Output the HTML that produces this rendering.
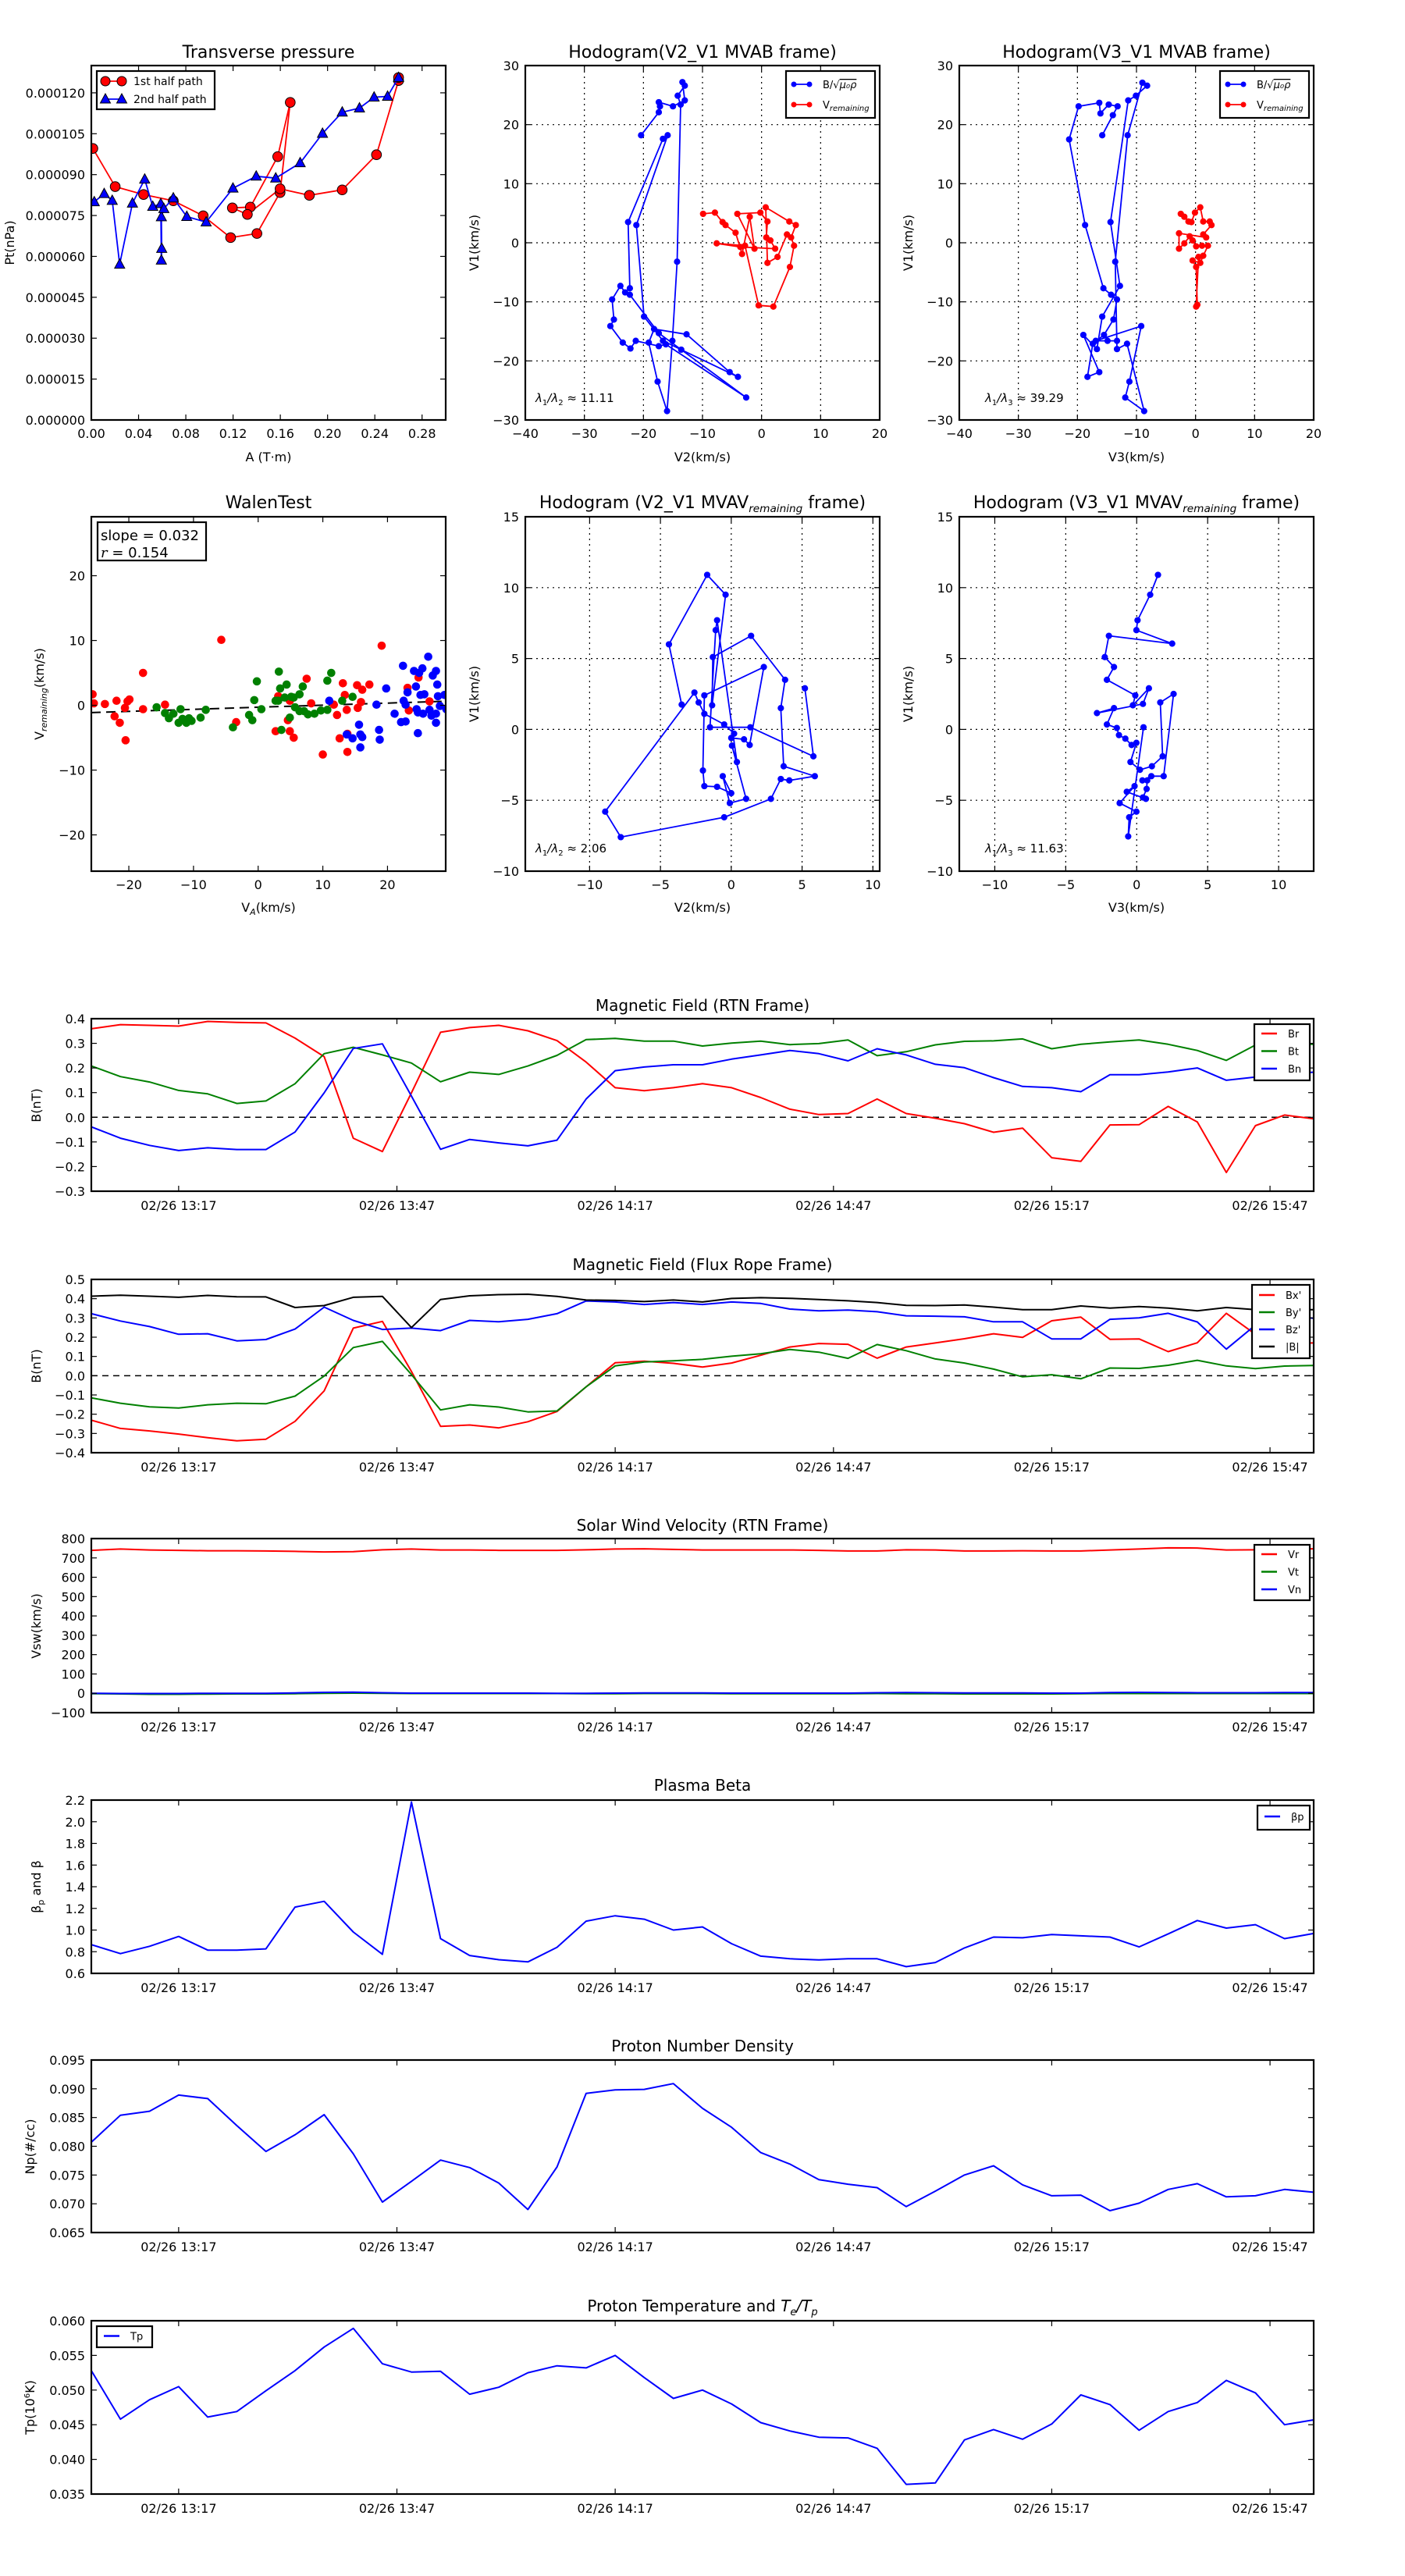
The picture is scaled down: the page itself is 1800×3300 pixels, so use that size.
<!DOCTYPE html>
<html><head><meta charset="utf-8"><title>Flux rope analysis</title>
<style>
html,body{margin:0;padding:0;background:#fff;}
svg{display:block;font-family:"DejaVu Sans","Liberation Sans",sans-serif;}
</style></head>
<body>
<svg id="fig" xmlns="http://www.w3.org/2000/svg" width="1800" height="3300" viewBox="0 0 1800 3300">
<rect x="0" y="0" width="1800" height="3300" fill="#fff"/>
</svg>
<script>
// ---------------- DATA ----------------
// Transverse pressure (A in T·m, Pt in 1e-6 nPa)
const ptRedA = [0.0013,0.0202,0.0442,0.0694,0.0947,0.1179,0.1402,0.1598,0.1684,0.1578,0.1346,0.1194,0.1321,0.1598,0.1846,0.2124,0.2414,0.2601,0.2601];
const ptRedP = [99.6,85.6,82.7,80.4,74.9,66.9,68.4,83.4,116.5,96.6,78.1,77.8,75.4,84.8,82.4,84.4,97.3,124.5,125.6];
const ptBlueA = [0.0025,0.0109,0.0177,0.0240,0.0348,0.0452,0.0520,0.0588,0.0593,0.0596,0.0593,0.0614,0.0694,0.0808,0.0972,0.1199,0.1396,0.1561,0.1768,0.1957,0.2124,0.2270,0.2394,0.2508,0.2601];
const ptBlueP = [80.0,83.0,80.5,57.1,79.5,88.3,78.3,79.3,58.6,62.9,74.5,77.5,81.4,74.6,72.6,85.0,89.4,88.7,94.3,105.1,112.9,114.4,118.4,118.7,125.6];
const ptXTicks = [0,0.04,0.08,0.12,0.16,0.20,0.24,0.28];
const ptYTicks = [0,15,30,45,60,75,90,105,120];

// Hodogram MVAB V2-V1
const h1BlueV2 = [-20.4,-17.4,-17.2,-17.4,-15.0,-13.0,-13.4,-13.0,-14.2,-13.7,-14.3,-15.1,-16.0,-17.6,-19.1,-18.2,-12.7,-5.4,-4.0,-13.6,-16.7,-19.9,-21.2,-15.9,-16.7,-22.6,-22.3,-23.1,-23.9,-25.3,-25.0,-25.6,-23.5,-22.2,-21.3,-17.4,-16.2,-2.6,-17.4,-22.3];
const h1BlueV1 = [18.2,22.1,23.1,23.8,23.1,24.1,27.2,26.6,24.9,23.4,-3.2,-16.6,-28.5,-23.5,-16.9,-14.6,-15.5,-21.9,-22.7,-18.1,-16.6,-12.5,3.0,18.2,17.6,3.5,-7.7,-8.4,-7.3,-9.6,-13.0,-14.1,-16.9,-17.9,-16.6,-17.5,-17.2,-26.2,-15.3,-8.8];
const h1RedV2 = [-9.9,-7.9,-6.6,-6.1,-4.4,-3.3,-2.0,-1.2,-4.1,-0.2,1.0,0.8,1.5,2.3,-3.6,-7.6,-2.8,-0.5,2.0,4.8,5.5,5.0,5.8,4.7,0.7,1.0,2.7,4.3];
const h1RedV1 = [4.9,5.1,3.5,3.0,1.7,-1.9,4.4,-1.0,4.9,5.1,3.6,0.9,0.4,-1.0,-0.7,-0.1,-0.5,-10.6,-10.8,-4.1,-0.5,0.9,3.0,3.6,6.0,-3.4,-2.4,1.4];
// Hodogram MVAB V3-V1
const h2BlueV3 = [-15.8,-14.0,-13.2,-14.7,-16.1,-16.3,-19.8,-21.4,-18.7,-15.6,-14.3,-13.3,-13.9,-15.5,-17.4,-18.3,-16.3,-19.0,-16.7,-15.8,-12.8,-14.4,-11.4,-10.1,-8.2,-9.0,-11.5,-13.6,-13.3,-11.6,-8.7,-11.9,-11.2,-9.2,-16.9,-14.9,-13.3];
const h2BlueV1 = [18.2,21.6,23.1,23.4,21.9,23.7,23.1,17.5,3.0,-7.7,-8.8,-9.6,-13.0,-15.6,-17.1,-22.7,-21.9,-15.6,-18.0,-12.5,-7.3,3.5,24.1,24.9,26.6,27.1,18.2,-3.2,-18.0,-17.1,-28.5,-26.2,-23.5,-14.1,-16.6,-16.6,-16.6];
const h2RedV3 = [-2.5,-1.9,-1.2,-0.7,-0.1,0.8,1.3,2.4,2.7,1.3,1.8,-2.8,-2.8,-1.9,-1.0,-0.5,0.1,1.1,2.1,1.3,0.8,-0.5,0.1,0.3,0.1,0.5];
const h2RedV1 = [4.9,4.4,3.6,3.5,5.1,6.0,3.6,3.6,3.0,1.4,0.9,1.6,-1.0,-0.1,1.1,0.4,-0.6,-0.5,-0.5,-2.2,-3.4,-3.0,-4.1,-10.5,-10.8,-2.4];
const hodoTicks1X = [-40,-30,-20,-10,0,10,20];
const hodoTicks1Y = [-30,-20,-10,0,10,20,30];

// Walen test
const walRedVA = [-25.6,-25.4,-23.7,-22.2,-21.9,-21.4,-20.6,-20.5,-20.2,-19.9,-17.8,-17.8,-14.4,-5.7,-3.4,2.7,3.1,4.6,4.9,4.9,5.5,7.5,8.2,10.0,11.7,12.2,12.6,13.1,13.4,13.7,13.8,13.8,15.3,15.4,15.9,16.1,17.2,19.1,23.1,23.3,24.8,26.5];
const walRedV = [1.7,0.3,0.2,-1.7,0.7,-2.7,-0.4,-5.4,0.6,0.9,5.0,-0.6,0.1,10.1,-2.6,-4.0,1.4,-2.3,0.7,-4.0,-5.0,4.1,0.3,-7.6,0.1,-1.5,-5.1,3.4,1.6,-0.7,-4.4,-7.2,3.1,-0.4,0.5,2.4,3.2,9.2,2.7,-0.8,4.3,0.6];
const walGreenVA = [-15.7,-14.4,-13.8,-13.1,-12.3,-12.0,-11.7,-11.1,-10.7,-10.3,-8.9,-8.1,-3.9,-1.4,-0.9,-0.6,-0.2,0.5,2.7,3.1,3.2,3.4,3.6,4.1,4.4,4.9,5.1,5.5,5.7,6.4,6.4,6.9,7.1,7.7,8.7,9.7,10.7,10.7,11.3,13.0,14.6];
const walGreenV = [-0.3,-1.2,-2.0,-1.3,-2.7,-0.6,-2.1,-2.7,-2.0,-2.4,-1.9,-0.7,-3.4,-1.5,-2.3,0.8,3.7,-0.6,0.7,0.7,5.2,2.6,-3.8,1.2,3.2,-1.9,1.3,1.2,-0.3,1.7,-0.9,2.9,-0.9,-1.4,-1.3,-0.8,-0.7,3.8,5.0,0.7,1.3];
const walBlueVA = [11.0,13.7,14.6,15.6,15.8,15.8,16.1,18.3,18.7,18.8,19.8,21.1,22.1,22.4,22.5,22.8,22.8,23.1,24.1,24.4,24.5,24.7,24.7,24.9,25.1,25.4,25.5,25.7,26.3,26.5,26.8,27.0,27.5,27.7,27.5,27.5,27.8,28.1,28.8,29.1];
const walBlueV = [0.7,-4.5,-5.1,-3.0,-4.5,-6.5,-4.9,0.1,-3.8,-5.3,2.6,-1.3,-2.6,6.1,0.7,0.1,-2.5,2.0,5.3,2.9,-0.6,-1.1,-4.3,5.0,1.6,5.7,-1.3,1.7,7.5,-0.7,-1.6,4.6,5.3,3.2,-1.3,-2.7,1.4,-0.1,1.6,-0.6];
const walSlope = 0.032;
const walIntercept = -0.3;
const walTicks = [-20,-10,0,10,20];

// Hodogram MVAV remaining
const h3V2 = [-3.5,-4.4,-1.7,-0.4,-1.35,-1.3,1.4,3.8,3.5,3.7,5.9,4.1,3.5,2.8,-0.5,-7.8,-8.9,-2.6,-2.3,-1.9,-0.5,0.2,0.0,0.9,1.3,2.3,-1.9,-2.0,-1.9,-1.0,0.0,-0.6,-0.1,1.05,0.05,0.4,-1.0,-1.1,-1.5,1.35,5.8,5.2];
const h3V1 = [1.75,6.0,10.9,9.5,1.7,5.1,6.6,3.5,1.5,-2.6,-3.3,-3.6,-3.5,-4.9,-6.2,-7.6,-5.8,2.6,1.9,1.1,0.35,-0.3,-0.6,-0.7,-1.1,4.4,2.4,-2.9,-4.0,-4.05,-4.5,-3.3,-5.2,-4.9,-1.15,-2.3,7.7,7.0,0.15,0.15,-1.9,2.9];
const h4V3 = [1.5,0.95,0.06,-0.02,2.5,-1.96,-2.25,-1.6,-2.1,-0.1,-0.27,0.86,0.44,-2.8,-1.6,-2.1,-1.4,-1.25,-0.8,-0.36,-0.02,-0.44,0.23,1.07,1.83,1.66,2.6,1.9,1.03,0.4,0.74,0.7,0.44,0.65,-0.7,-0.15,-1.2,-0.02,-0.53,-0.6,0.48];
const h4V1 = [10.9,9.5,7.7,7.0,6.05,6.6,5.1,4.4,3.5,2.4,1.7,2.9,1.8,1.15,1.5,0.35,0.1,-0.4,-0.65,-1.1,-0.95,-2.3,-2.85,-2.6,-1.9,1.9,2.5,-3.3,-3.3,-3.6,-3.6,-4.2,-4.8,-4.9,-4.4,-4.0,-5.2,-5.8,-6.2,-7.55,0.15];
const hodoTicks2X = [-10,-5,0,5,10];
const hodoTicks2Y = [-10,-5,0,5,10,15];

// Time series (43 samples every 4 minutes from 02/26 13:05)
const tsMinutes = Array.from({length:43},(_,i)=>i*4);
const timeTickMin = [12,42,72,102,132,162];
const timeTickLabels = ["02/26 13:17","02/26 13:47","02/26 14:17","02/26 14:47","02/26 15:17","02/26 15:47"];
const Br = [0.359,0.376,0.373,0.370,0.389,0.385,0.383,0.321,0.246,-0.085,-0.139,0.099,0.345,0.364,0.373,0.351,0.311,0.224,0.120,0.108,0.120,0.136,0.120,0.080,0.033,0.011,0.015,0.074,0.015,-0.004,-0.026,-0.061,-0.044,-0.164,-0.179,-0.031,-0.030,0.044,-0.019,-0.224,-0.034,0.009,-0.006];
const Bt = [0.208,0.165,0.143,0.109,0.095,0.056,0.066,0.136,0.258,0.284,0.253,0.220,0.144,0.183,0.174,0.208,0.251,0.315,0.320,0.309,0.309,0.289,0.301,0.309,0.295,0.299,0.314,0.250,0.266,0.294,0.308,0.310,0.318,0.278,0.296,0.306,0.314,0.296,0.271,0.231,0.293,0.299,0.296];
const Bn = [-0.039,-0.085,-0.114,-0.135,-0.124,-0.131,-0.131,-0.060,0.099,0.279,0.298,0.086,-0.130,-0.090,-0.104,-0.116,-0.093,0.074,0.189,0.204,0.213,0.213,0.236,0.253,0.271,0.258,0.229,0.278,0.253,0.215,0.201,0.161,0.125,0.120,0.104,0.173,0.173,0.184,0.200,0.150,0.163,0.174,0.183];
const Bxp = [-0.231,-0.274,-0.287,-0.303,-0.322,-0.338,-0.330,-0.237,-0.079,0.247,0.282,0.022,-0.263,-0.256,-0.271,-0.239,-0.186,-0.058,0.067,0.075,0.064,0.045,0.066,0.106,0.149,0.167,0.163,0.091,0.149,0.170,0.192,0.218,0.199,0.285,0.304,0.189,0.191,0.125,0.171,0.324,0.215,0.167,0.170];
const Byp = [-0.115,-0.143,-0.162,-0.168,-0.151,-0.143,-0.146,-0.106,-0.002,0.146,0.178,0.006,-0.178,-0.151,-0.163,-0.188,-0.183,-0.058,0.051,0.071,0.077,0.085,0.101,0.114,0.136,0.122,0.090,0.162,0.130,0.087,0.066,0.034,-0.006,0.005,-0.016,0.040,0.038,0.054,0.080,0.051,0.037,0.050,0.053];
const Bzp = [0.322,0.284,0.255,0.215,0.218,0.181,0.188,0.242,0.356,0.287,0.240,0.247,0.234,0.287,0.280,0.293,0.322,0.388,0.383,0.370,0.380,0.370,0.383,0.375,0.346,0.337,0.341,0.332,0.311,0.309,0.306,0.280,0.280,0.191,0.191,0.293,0.300,0.324,0.279,0.138,0.263,0.311,0.298];
const Bmag = [0.413,0.418,0.413,0.407,0.417,0.410,0.409,0.354,0.364,0.407,0.412,0.250,0.396,0.415,0.421,0.423,0.412,0.393,0.391,0.385,0.393,0.383,0.401,0.405,0.402,0.396,0.389,0.380,0.365,0.364,0.367,0.356,0.343,0.343,0.362,0.351,0.359,0.351,0.337,0.354,0.343,0.343,0.343];
const Vr = [739,746,741,739,737,737,736,734,731,732,742,746,741,741,739,739,739,742,746,747,744,741,741,741,741,739,736,736,742,741,736,736,737,736,736,741,746,752,751,741,742,746,747];
const Vt = [-2,-3,-5,-5,-4,-3,-3,-2,0,1,0,-1,-1,-1,-1,-1,-1,-2,-2,-1,-1,-1,-2,-2,-2,-2,-2,-1,-2,-2,-3,-3,-3,-3,-2,-1,-1,-1,-1,-1,-1,-1,-1];
const Vn = [0,-1,-1,-1,0,0,0,2,5,6,3,1,1,1,1,1,0,0,1,2,2,2,1,1,1,1,1,3,4,3,2,2,2,1,1,4,5,4,3,3,3,4,4];
const betaP = [0.865,0.782,0.850,0.941,0.815,0.815,0.826,1.212,1.265,0.982,0.776,2.182,0.921,0.765,0.726,0.706,0.841,1.082,1.132,1.100,1.000,1.029,0.874,0.759,0.735,0.724,0.735,0.735,0.662,0.700,0.835,0.935,0.929,0.959,0.947,0.935,0.844,0.965,1.088,1.018,1.050,0.921,0.968];
const Np = [0.0807,0.0854,0.0861,0.0889,0.0883,0.0836,0.0791,0.0820,0.0855,0.0787,0.0703,0.0739,0.0776,0.0763,0.0736,0.0690,0.0764,0.0892,0.0898,0.0899,0.0909,0.0866,0.0833,0.0789,0.0769,0.0742,0.0734,0.0728,0.0695,0.0722,0.0750,0.0766,0.0733,0.0714,0.0715,0.0688,0.0701,0.0725,0.0735,0.0712,0.0714,0.0725,0.0720];
const Tp = [0.0528,0.0458,0.0486,0.0505,0.0461,0.0469,0.0499,0.0528,0.0562,0.0589,0.0538,0.0526,0.0527,0.0494,0.0504,0.0525,0.0535,0.0532,0.0550,0.0518,0.0488,0.0500,0.0480,0.0453,0.0441,0.0432,0.0431,0.0416,0.0364,0.0366,0.0428,0.0443,0.0429,0.0451,0.0493,0.0479,0.0442,0.0469,0.0482,0.0514,0.0496,0.0450,0.0457];
const rtnTicks = [-0.3,-0.2,-0.1,0.0,0.1,0.2,0.3,0.4];
const fluxTicks = [-0.4,-0.3,-0.2,-0.1,0.0,0.1,0.2,0.3,0.4,0.5];
const velTicks = [-100,0,100,200,300,400,500,600,700,800];
const betaTicks = [0.6,0.8,1.0,1.2,1.4,1.6,1.8,2.0,2.2];
const npTicks = [0.065,0.070,0.075,0.080,0.085,0.090,0.095];
const tpTicks = [0.035,0.040,0.045,0.050,0.055,0.060];

// ---------------- DRAWING ----------------
const NS = "http://www.w3.org/2000/svg";
const fig = document.getElementById('fig');
const RED = "#ff0000", GREEN = "#008000", BLUE = "#0000ff";
function mk(tag, parent, attrs){
  const e = document.createElementNS(NS, tag);
  for (const k in attrs) e.setAttribute(k, attrs[k]);
  parent.appendChild(e);
  return e;
}
function txt(parent, x, y, s, size, anchor, name, rot){
  const t = mk('text', parent, {x:x, y:y, 'font-size':size, 'text-anchor':anchor||'start', fill:'#000'});
  if (rot) t.setAttribute('transform', 'rotate(' + rot + ' ' + x + ' ' + y + ')');
  t.textContent = s;
  
  
  return t;
}
function fmtMinus(s){ return String(s).replace('-', '\u2212'); }

function makeAxes(name, px0, px1, py0, py1, xr, yr){
  const g = mk('g', fig, {});
  
  
  const cid = 'clip-' + name;
  const cp = mk('clipPath', g, {id: cid});
  mk('rect', cp, {x:px0, y:py0, width:px1-px0, height:py1-py0});
  const plot = mk('g', g, {'clip-path':'url(#' + cid + ')'});
  
  
  return {g, plot, px0, px1, py0, py1,
    sx: v => px0 + (v - xr[0]) / (xr[1] - xr[0]) * (px1 - px0),
    sy: v => py1 - (v - yr[0]) / (yr[1] - yr[0]) * (py1 - py0)};
}
function frame(ax, xticks, xlabels, yticks, ylabels, opt){
  const fs = opt.fs || 16, tl = 7;
  if (opt.grid){
    xticks.forEach(v => { const x = ax.sx(v);
      const l = mk('line', ax.plot, {x1:x, x2:x, y1:ax.py0, y2:ax.py1, stroke:'#000', 'stroke-width':1.2, 'stroke-dasharray':'2,5'});
      
      
    });
    yticks.forEach(v => { const y = ax.sy(v);
      const l = mk('line', ax.plot, {x1:ax.px0, x2:ax.px1, y1:y, y2:y, stroke:'#000', 'stroke-width':1.2, 'stroke-dasharray':'2,5'});
      
      
    });
  }
  const tg = mk('g', ax.g, {stroke:'#000', 'stroke-width':1.2});
  xticks.forEach((v, i) => { const x = ax.sx(v);
    mk('line', tg, {x1:x, x2:x, y1:ax.py1, y2:ax.py1 - tl});
    mk('line', tg, {x1:x, x2:x, y1:ax.py0, y2:ax.py0 + tl});
    txt(ax.g, x, ax.py1 + (opt.xoff || 23), xlabels[i], fs, 'middle', 'x-tick-label');
  });
  yticks.forEach((v, i) => { const y = ax.sy(v);
    mk('line', tg, {x1:ax.px0, x2:ax.px0 + tl, y1:y, y2:y});
    mk('line', tg, {x1:ax.px1, x2:ax.px1 - tl, y1:y, y2:y});
    txt(ax.g, ax.px0 - 8, y + 6, ylabels[i], fs, 'end', 'y-tick-label');
  });
}
function border(ax){
  const r = mk('rect', ax.g, {x:ax.px0, y:ax.py0, width:ax.px1 - ax.px0, height:ax.py1 - ax.py0, fill:'none', stroke:'#000', 'stroke-width':2.2});
  
  
}
function line(ax, xs, ys, color, name, w, dots){
  const pts = xs.map((x, i) => ax.sx(x).toFixed(1) + ',' + ax.sy(ys[i]).toFixed(1)).join(' ');
  const p = mk('polyline', ax.plot, {points:pts, fill:'none', stroke:color, 'stroke-width':w || 1.8, 'stroke-linejoin':'round'});
  
  
  if (dots){
    xs.forEach((x, i) => {
      const c = mk('circle', ax.plot, {cx:ax.sx(x), cy:ax.sy(ys[i]), r:dots, fill:color, stroke:color});
      
      
    });
  }
  return p;
}
function legendBox(parent, x, y, w, h){
  const r = mk('rect', parent, {x:x, y:y, width:w, height:h, fill:'#fff', stroke:'#000', 'stroke-width':2.2});
  
  
}

// ---- Panel 1: Transverse pressure
(function(){
  const ax = makeAxes('transverse-pressure-chart', 117, 571, 84, 538, [0, 0.30], [0, 130]);
  frame(ax, ptXTicks, ptXTicks.map(v => v.toFixed(2)), ptYTicks, ptYTicks.map(v => (v * 1e-6).toFixed(6)), {fs:16});
  line(ax, ptRedA, ptRedP, RED, 'first-half-path', 1.8);
  ptRedA.forEach((a, i) => {
    const c = mk('circle', ax.plot, {cx:ax.sx(a), cy:ax.sy(ptRedP[i]), r:6.3, fill:RED, stroke:'#000', 'stroke-width':1});
    
    
  });
  line(ax, ptBlueA, ptBlueP, BLUE, 'second-half-path', 1.8);
  ptBlueA.forEach((a, i) => {
    const x = ax.sx(a), y = ax.sy(ptBlueP[i]);
    const t = mk('polygon', ax.plot, {points:(x) + ',' + (y - 7) + ' ' + (x - 6.5) + ',' + (y + 5) + ' ' + (x + 6.5) + ',' + (y + 5), fill:BLUE, stroke:'#000', 'stroke-width':1});
    
    
  });
  border(ax);
  txt(ax.g, 344, 74, 'Transverse pressure', 22, 'middle', 'chart-title');
  txt(ax.g, 344, 591, 'A (T\u00b7m)', 16, 'middle', 'x-axis-title');
  txt(ax.g, 18, 311, 'Pt(nPa)', 16, 'middle', 'y-axis-title', -90);
  const lg = mk('g', ax.g, {});
  
  
  legendBox(lg, 124, 91, 151, 49);
  mk('line', lg, {x1:135, x2:156, y1:104, y2:104, stroke:RED, 'stroke-width':1.8});
  mk('circle', lg, {cx:135, cy:104, r:6, fill:RED, stroke:'#000'});
  mk('circle', lg, {cx:156, cy:104, r:6, fill:RED, stroke:'#000'});
  txt(lg, 171, 109, '1st half path', 14, 'start', 'legend-entry-first-half');
  mk('line', lg, {x1:135, x2:156, y1:127, y2:127, stroke:BLUE, 'stroke-width':1.8});
  mk('polygon', lg, {points:'135,120 128.5,132 141.5,132', fill:BLUE, stroke:'#000'});
  mk('polygon', lg, {points:'156,120 149.5,132 162.5,132', fill:BLUE, stroke:'#000'});
  txt(lg, 171, 132, '2nd half path', 14, 'start', 'legend-entry-second-half');
})();

function hodoLegend(parent, x, y, twoEntries){
  const lg = mk('g', parent, {});
  
  
  legendBox(lg, x, y, 114, 60);
  mk('line', lg, {x1:x + 10, x2:x + 30, y1:y + 17, y2:y + 17, stroke:BLUE, 'stroke-width':1.8});
  mk('circle', lg, {cx:x + 10, cy:y + 17, r:3.5, fill:BLUE});
  mk('circle', lg, {cx:x + 30, cy:y + 17, r:3.5, fill:BLUE});
  const t1 = txt(lg, x + 47, y + 22, 'B/\u221a', 13, 'start', 'legend-entry-alfven');
  const ts = mk('tspan', t1, {'font-style':'italic', 'text-decoration':'overline'});
  ts.textContent = '\u03bc\u2080\u03c1';
  mk('line', lg, {x1:x + 10, x2:x + 30, y1:y + 43, y2:y + 43, stroke:RED, 'stroke-width':1.8});
  mk('circle', lg, {cx:x + 10, cy:y + 43, r:3.5, fill:RED});
  mk('circle', lg, {cx:x + 30, cy:y + 43, r:3.5, fill:RED});
  const t2 = txt(lg, x + 47, y + 48, 'V', 13, 'start', 'legend-entry-vremaining');
  const s2 = mk('tspan', t2, {'font-style':'italic', 'font-size':10, dy:3});
  s2.textContent = 'remaining';
}
function subTitle(parent, x, y, pre, sub, post, size, name){
  const t = txt(parent, x, y, pre, size, 'middle', name);
  const s = mk('tspan', t, {'font-size':size * 0.62, 'font-style':'italic', dy:5});
  s.textContent = sub;
  const p = mk('tspan', t, {dy:-5});
  p.textContent = post;
  return t;
}
function lambdaLabel(parent, x, y, k, val){
  const t = txt(parent, x, y, '', 15, 'start', 'eigenvalue-ratio');
  const a = mk('tspan', t, {'font-style':'italic'}); a.textContent = '\u03bb';
  const b = mk('tspan', t, {'font-size':10, dy:4}); b.textContent = '1';
  const c = mk('tspan', t, {dy:-4, 'font-style':'italic'}); c.textContent = '/\u03bb';
  const d = mk('tspan', t, {'font-size':10, dy:4}); d.textContent = k;
  const e = mk('tspan', t, {dy:-4}); e.textContent = ' \u2248 ' + val;
}

// ---- Panel 2: Hodogram V2_V1 MVAB
(function(){
  const ax = makeAxes('hodogram-v2-v1-mvab', 673, 1127, 84, 538, [-40, 20], [-30, 30]);
  frame(ax, hodoTicks1X, hodoTicks1X.map(fmtMinus), hodoTicks1Y, hodoTicks1Y.map(fmtMinus), {fs:16, grid:true});
  line(ax, h1BlueV2, h1BlueV1, BLUE, 'alfven-velocity-path', 1.8, 3.6);
  line(ax, h1RedV2, h1RedV1, RED, 'remaining-velocity-path', 1.8, 3.6);
  border(ax);
  hodoLegend(ax.g, 1007, 91, true);
  lambdaLabel(ax.g, 686, 515, '2', '11.11');
  txt(ax.g, 900, 74, 'Hodogram(V2_V1 MVAB frame)', 22, 'middle', 'chart-title');
  txt(ax.g, 900, 591, 'V2(km/s)', 16, 'middle', 'x-axis-title');
  txt(ax.g, 613, 311, 'V1(km/s)', 16, 'middle', 'y-axis-title', -90);
})();
// ---- Panel 3: Hodogram V3_V1 MVAB
(function(){
  const ax = makeAxes('hodogram-v3-v1-mvab', 1229, 1683, 84, 538, [-40, 20], [-30, 30]);
  frame(ax, hodoTicks1X, hodoTicks1X.map(fmtMinus), hodoTicks1Y, hodoTicks1Y.map(fmtMinus), {fs:16, grid:true});
  line(ax, h2BlueV3, h2BlueV1, BLUE, 'alfven-velocity-path', 1.8, 3.6);
  line(ax, h2RedV3, h2RedV1, RED, 'remaining-velocity-path', 1.8, 3.6);
  border(ax);
  hodoLegend(ax.g, 1563, 91, true);
  lambdaLabel(ax.g, 1262, 515, '3', '39.29');
  txt(ax.g, 1456, 74, 'Hodogram(V3_V1 MVAB frame)', 22, 'middle', 'chart-title');
  txt(ax.g, 1456, 591, 'V3(km/s)', 16, 'middle', 'x-axis-title');
  txt(ax.g, 1169, 311, 'V1(km/s)', 16, 'middle', 'y-axis-title', -90);
})();
// ---- Panel 4: Walen test
(function(){
  const ax = makeAxes('walen-test-chart', 117, 571, 662, 1116, [-25.8, 29.0], [-25.6, 29.1]);
  frame(ax, walTicks, walTicks.map(fmtMinus), walTicks, walTicks.map(fmtMinus), {fs:16});
  const fx = [-25.8, 29.0];
  const fl = mk('line', ax.plot, {x1:ax.sx(fx[0]), y1:ax.sy(walSlope * fx[0] + walIntercept), x2:ax.sx(fx[1]), y2:ax.sy(walSlope * fx[1] + walIntercept), stroke:'#000', 'stroke-width':2, 'stroke-dasharray':'12,7'});
  
  
  [[walRedVA, walRedV, RED, 'walen-point-red'], [walGreenVA, walGreenV, GREEN, 'walen-point-green'], [walBlueVA, walBlueV, BLUE, 'walen-point-blue']].forEach(s => {
    s[0].forEach((v, i) => {
      const c = mk('circle', ax.plot, {cx:ax.sx(v), cy:ax.sy(s[1][i]), r:5.3, fill:s[2]});
      
      
    });
  });
  border(ax);
  const bx = mk('g', ax.g, {});
  
  
  legendBox(bx, 125, 669, 139, 49);
  txt(bx, 129, 692, 'slope = ' + walSlope.toFixed(3), 18, 'start', 'slope-label');
  const r = txt(bx, 129, 714, '', 18, 'start', 'correlation-label');
  const ri = mk('tspan', r, {'font-style':'italic', 'font-family':'DejaVu Serif, serif'}); ri.textContent = 'r';
  const rv = mk('tspan', r, {}); rv.textContent = ' = 0.154';
  txt(ax.g, 344, 651, 'WalenTest', 22, 'middle', 'chart-title');
  const xl = txt(ax.g, 344, 1168, 'V', 16, 'middle', 'x-axis-title');
  const xs = mk('tspan', xl, {'font-size':11, 'font-style':'italic', dy:4}); xs.textContent = 'A';
  const xp = mk('tspan', xl, {dy:-4}); xp.textContent = '(km/s)';
  const yl = txt(ax.g, 56, 889, 'V', 16, 'middle', 'y-axis-title', -90);
  const ys = mk('tspan', yl, {'font-size':11, 'font-style':'italic', dy:4}); ys.textContent = 'remaining';
  const yp = mk('tspan', yl, {dy:-4}); yp.textContent = '(km/s)';
})();
// ---- Panel 5/6: Hodograms MVAV remaining
(function(){
  const ax = makeAxes('hodogram-v2-v1-mvav', 673, 1127, 662, 1116, [-14.54, 10.48], [-10, 15]);
  frame(ax, hodoTicks2X, hodoTicks2X.map(fmtMinus), hodoTicks2Y, hodoTicks2Y.map(fmtMinus), {fs:16, grid:true});
  line(ax, h3V2, h3V1, BLUE, 'remaining-velocity-path', 1.8, 3.6);
  border(ax);
  lambdaLabel(ax.g, 686, 1092, '2', '2.06');
  subTitle(ax.g, 900, 651, 'Hodogram (V2_V1 MVAV', 'remaining', ' frame)', 22, 'chart-title');
  txt(ax.g, 900, 1168, 'V2(km/s)', 16, 'middle', 'x-axis-title');
  txt(ax.g, 613, 889, 'V1(km/s)', 16, 'middle', 'y-axis-title', -90);
})();
(function(){
  const ax = makeAxes('hodogram-v3-v1-mvav', 1229, 1683, 662, 1116, [-12.5, 12.47], [-10, 15]);
  frame(ax, hodoTicks2X, hodoTicks2X.map(fmtMinus), hodoTicks2Y, hodoTicks2Y.map(fmtMinus), {fs:16, grid:true});
  line(ax, h4V3, h4V1, BLUE, 'remaining-velocity-path', 1.8, 3.6);
  border(ax);
  lambdaLabel(ax.g, 1262, 1092, '3', '11.63');
  subTitle(ax.g, 1456, 651, 'Hodogram (V3_V1 MVAV', 'remaining', ' frame)', 22, 'chart-title');
  txt(ax.g, 1456, 1168, 'V3(km/s)', 16, 'middle', 'x-axis-title');
  txt(ax.g, 1169, 889, 'V1(km/s)', 16, 'middle', 'y-axis-title', -90);
})();

// ---- Time series panels
function tsPanel(name, py0, py1, yr, ticks, dec, series, title, ylabel, legend, zeroLine){
  const ax = makeAxes(name, 117, 1683, py0, py1, [0, 168], yr);
  frame(ax, timeTickMin, timeTickLabels, ticks, ticks.map(v => fmtMinus(v.toFixed(dec))), {fs:16, xoff:24});
  if (zeroLine){
    const z = mk('line', ax.plot, {x1:117, x2:1683, y1:ax.sy(0), y2:ax.sy(0), stroke:'#000', 'stroke-width':1.5, 'stroke-dasharray':'8,6'});
    
    
  }
  series.forEach(s => line(ax, tsMinutes, s[0], s[1], s[2], 2));
  border(ax);
  if (legend){
    const lg = mk('g', ax.g, {});
    
    
    legendBox(lg, legend.x, legend.y, legend.w, legend.h);
    legend.items.forEach((it, i) => {
      const yy = legend.y0 + i * legend.dy;
      mk('line', lg, {x1:legend.x + 9, x2:legend.x + 29, y1:yy, y2:yy, stroke:it[1], 'stroke-width':2.5});
      txt(lg, legend.x + 43, yy + 5, it[0], 13, 'start', 'legend-entry');
    });
  }
  return ax;
}
tsPanel('magnetic-field-rtn-chart', 1305, 1526, [-0.3, 0.4], rtnTicks, 1,
  [[Br, RED, 'br-line'], [Bt, GREEN, 'bt-line'], [Bn, BLUE, 'bn-line']], '', '',
  {x:1607, y:1312, w:71, h:72, y0:1324, dy:22.5, items:[['Br', RED], ['Bt', GREEN], ['Bn', BLUE]]}, true);
txt(fig, 900, 1295, 'Magnetic Field (RTN Frame)', 20, 'middle', 'rtn-field-title');
txt(fig, 52, 1416, 'B(nT)', 16, 'middle', 'rtn-field-y-axis-title', -90);

tsPanel('magnetic-field-flux-rope-chart', 1639, 1861, [-0.4, 0.5], fluxTicks, 1,
  [[Bxp, RED, 'bx-line'], [Byp, GREEN, 'by-line'], [Bzp, BLUE, 'bz-line'], [Bmag, '#000', 'b-magnitude-line']], '', '',
  {x:1604, y:1646, w:74, h:94, y0:1659, dy:22, items:[["Bx'", RED], ["By'", GREEN], ["Bz'", BLUE], ['|B|', '#000']]}, true);
txt(fig, 900, 1627, 'Magnetic Field (Flux Rope Frame)', 20, 'middle', 'flux-rope-field-title');
txt(fig, 52, 1750, 'B(nT)', 16, 'middle', 'flux-rope-y-axis-title', -90);

tsPanel('solar-wind-velocity-chart', 1971, 2194, [-100, 800], velTicks, 0,
  [[Vr, RED, 'vr-line'], [Vt, GREEN, 'vt-line'], [Vn, BLUE, 'vn-line']], '', '',
  {x:1607, y:1979, w:71, h:71, y0:1991, dy:22.5, items:[['Vr', RED], ['Vt', GREEN], ['Vn', BLUE]]}, false);
txt(fig, 900, 1961, 'Solar Wind Velocity (RTN Frame)', 20, 'middle', 'velocity-title');
txt(fig, 52, 2083, 'Vsw(km/s)', 16, 'middle', 'velocity-y-axis-title', -90);

tsPanel('plasma-beta-chart', 2306, 2528, [0.6, 2.2], betaTicks, 1,
  [[betaP, BLUE, 'beta-p-line']], '', '',
  {x:1611, y:2313, w:67, h:31, y0:2327, dy:0, items:[['\u03b2p', BLUE]]}, false);
txt(fig, 900, 2294, 'Plasma Beta', 20, 'middle', 'plasma-beta-title');
(function(){
  const t = txt(fig, 52, 2417, '\u03b2', 16, 'middle', 'plasma-beta-y-axis-title', -90);
  const s = mk('tspan', t, {'font-size':11, dy:4}); s.textContent = 'p';
  const r = mk('tspan', t, {dy:-4}); r.textContent = ' and \u03b2';
})();

tsPanel('proton-density-chart', 2639, 2860, [0.065, 0.095], npTicks, 3,
  [[Np, BLUE, 'density-line']], '', '', null, false);
txt(fig, 900, 2628, 'Proton Number Density', 20, 'middle', 'density-title');
txt(fig, 44, 2750, 'Np(#/cc)', 16, 'middle', 'density-y-axis-title', -90);

tsPanel('proton-temperature-chart', 2973, 3195, [0.035, 0.060], tpTicks, 3,
  [[Tp, BLUE, 'temperature-line']], '', '',
  {x:124, y:2980, w:71, h:27, y0:2992.5, dy:0, items:[['Tp', BLUE]]}, false);
(function(){
  const t = txt(fig, 900, 2961, 'Proton Temperature and ', 20, 'middle', 'temperature-title');
  const a = mk('tspan', t, {'font-style':'italic'}); a.textContent = 'T';
  const b = mk('tspan', t, {'font-size':13, 'font-style':'italic', dy:5}); b.textContent = 'e';
  const c = mk('tspan', t, {'font-style':'italic', dy:-5}); c.textContent = '/T';
  const d = mk('tspan', t, {'font-size':13, 'font-style':'italic', dy:5}); d.textContent = 'p';
  const yl = txt(fig, 44, 3084, 'Tp(10', 16, 'middle', 'temperature-y-axis-title', -90);
  const e = mk('tspan', yl, {'font-size':10, dy:-6}); e.textContent = '6';
  const f = mk('tspan', yl, {dy:6}); f.textContent = 'K)';
})();
</script>
</body></html>
